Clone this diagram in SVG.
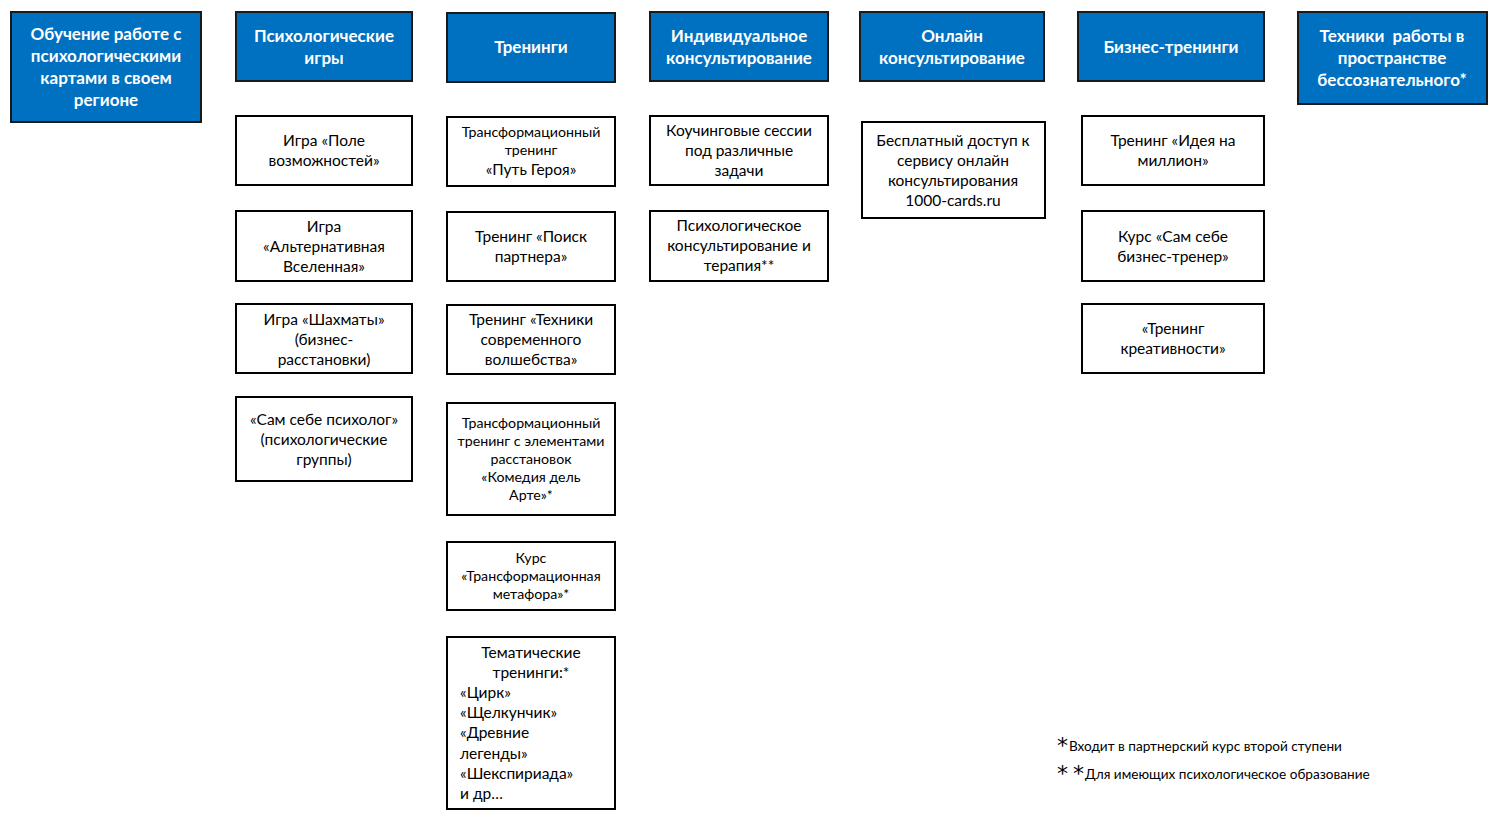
<svg xmlns="http://www.w3.org/2000/svg" width="1500" height="819" viewBox="0 0 1500 819">
<style>
.h rect{fill:#0070C0;stroke:#1a1a1a;stroke-width:2}
.h text{fill:#fff;font-family:Lato,"Open Sans",sans-serif;font-weight:bold;font-size:17px;text-anchor:middle}
.n rect{fill:#fff;stroke:#000;stroke-width:2}
.n text{fill:#000;font-family:Lato,"Open Sans",sans-serif;font-size:15.5px;text-anchor:middle}
.n text.s{font-size:14.2px}
.n text.l{text-anchor:start}
.f{font-family:Lato,"Open Sans",sans-serif;font-size:13.6px;fill:#000}
.a{font-family:"DejaVu Sans",sans-serif;font-size:22px;fill:#000}
</style>
<rect width="1500" height="819" fill="#fff"/>
<g id="h1" class="h"><rect x="11" y="12" width="190" height="110"/>
<text x="106" y="40">Обучение работе с</text><text x="106" y="62">психологическими</text><text x="106" y="84">картами в своем</text><text x="106" y="106">регионе</text></g>
<g id="h2" class="h"><rect x="236" y="12" width="176" height="69"/>
<text x="324" y="42">Психологические</text><text x="324" y="64">игры</text></g>
<g id="h3" class="h"><rect x="447" y="13" width="168" height="69"/>
<text x="531" y="53">Тренинги</text></g>
<g id="h4" class="h"><rect x="650" y="12" width="178" height="69"/>
<text x="739" y="42">Индивидуальное</text><text x="739" y="64">консультирование</text></g>
<g id="h5" class="h"><rect x="860" y="12" width="184" height="69"/>
<text x="952" y="42">Онлайн</text><text x="952" y="64">консультирование</text></g>
<g id="h6" class="h"><rect x="1078" y="12" width="186" height="69"/>
<text x="1171" y="53">Бизнес-тренинги</text></g>
<g id="h7" class="h"><rect x="1298" y="12" width="189" height="92"/>
<text x="1392" y="42" xml:space="preserve">Техники  работы в</text><text x="1392" y="64">пространстве</text><text x="1392" y="86">бессознательного*</text></g>

<g id="g1" class="n"><rect x="236" y="116" width="176" height="69"/>
<text x="324" y="146">Игра «Поле</text><text x="324" y="166">возможностей»</text></g>
<g id="g2" class="n"><rect x="236" y="211" width="176" height="70"/>
<text x="324" y="232">Игра</text><text x="324" y="252">«Альтернативная</text><text x="324" y="272">Вселенная»</text></g>
<g id="g3" class="n"><rect x="236" y="304" width="176" height="69"/>
<text x="324" y="325">Игра «Шахматы»</text><text x="324" y="345">(бизнес-</text><text x="324" y="365">расстановки)</text></g>
<g id="g4" class="n"><rect x="236" y="397" width="176" height="84"/>
<text x="324" y="425">«Сам себе психолог»</text><text x="324" y="445">(психологические</text><text x="324" y="465">группы)</text></g>

<g id="t1" class="n"><rect x="447" y="117" width="168" height="69"/>
<text class="s" x="531" y="137">Трансформационный</text><text class="s" x="531" y="155">тренинг</text><text x="531" y="175">«Путь Героя»</text></g>
<g id="t2" class="n"><rect x="447" y="212" width="168" height="69"/>
<text x="531" y="242">Тренинг «Поиск</text><text x="531" y="262">партнера»</text></g>
<g id="t3" class="n"><rect x="447" y="305" width="168" height="69"/>
<text x="531" y="325">Тренинг «Техники</text><text x="531" y="345">современного</text><text x="531" y="365">волшебства»</text></g>
<g id="t4" class="n"><rect x="447" y="403" width="168" height="112"/>
<text class="s" x="531" y="428">Трансформационный</text><text class="s" x="531" y="446">тренинг с элементами</text><text class="s" x="531" y="464">расстановок</text><text class="s" x="531" y="482">«Комедия дель</text><text class="s" x="531" y="500">Арте»*</text></g>
<g id="t5" class="n"><rect x="447" y="542" width="168" height="68"/>
<text class="s" x="531" y="563">Курс</text><text class="s" x="531" y="581">«Трансформационная</text><text class="s" x="531" y="599">метафора»*</text></g>
<g id="t6" class="n"><rect x="447" y="637" width="168" height="172"/>
<text x="531" y="658">Тематические</text><text x="531" y="678">тренинги:*</text>
<text class="l" x="460" y="698">«Цирк»</text><text class="l" x="460" y="718">«Щелкунчик»</text><text class="l" x="460" y="738">«Древние</text><text class="l" x="460" y="759">легенды»</text><text class="l" x="460" y="779">«Шекспириада»</text><text class="l" x="460" y="799">и др…</text></g>

<g id="i1" class="n"><rect x="650" y="116" width="178" height="69"/>
<text x="739" y="136">Коучинговые сессии</text><text x="739" y="156">под различные</text><text x="739" y="176">задачи</text></g>
<g id="i2" class="n"><rect x="650" y="211" width="178" height="70"/>
<text x="739" y="231">Психологическое</text><text x="739" y="251">консультирование и</text><text x="739" y="271">терапия**</text></g>

<g id="o1" class="n"><rect x="862" y="122" width="183" height="96"/>
<text x="953" y="146">Бесплатный доступ к</text><text x="953" y="166">сервису онлайн</text><text x="953" y="186">консультирования</text><text x="953" y="206">1000-cards.ru</text></g>

<g id="b1" class="n"><rect x="1082" y="116" width="182" height="69"/>
<text x="1173" y="146">Тренинг «Идея на</text><text x="1173" y="166">миллион»</text></g>
<g id="b2" class="n"><rect x="1082" y="211" width="182" height="70"/>
<text x="1173" y="242">Курс «Сам себе</text><text x="1173" y="262">бизнес-тренер»</text></g>
<g id="b3" class="n"><rect x="1082" y="304" width="182" height="69"/>
<text x="1173" y="334">«Тренинг</text><text x="1173" y="354">креативности»</text></g>

<g id="connectors"></g>

<g id="notes">
<text class="a" x="1057" y="753">*</text><text class="f" x="1069" y="751">Входит в партнерский курс второй ступени</text>
<text class="a" x="1057" y="781">*</text><text class="a" x="1073" y="781">*</text><text class="f" x="1085" y="779">Для имеющих психологическое образование</text>
</g>
</svg>
